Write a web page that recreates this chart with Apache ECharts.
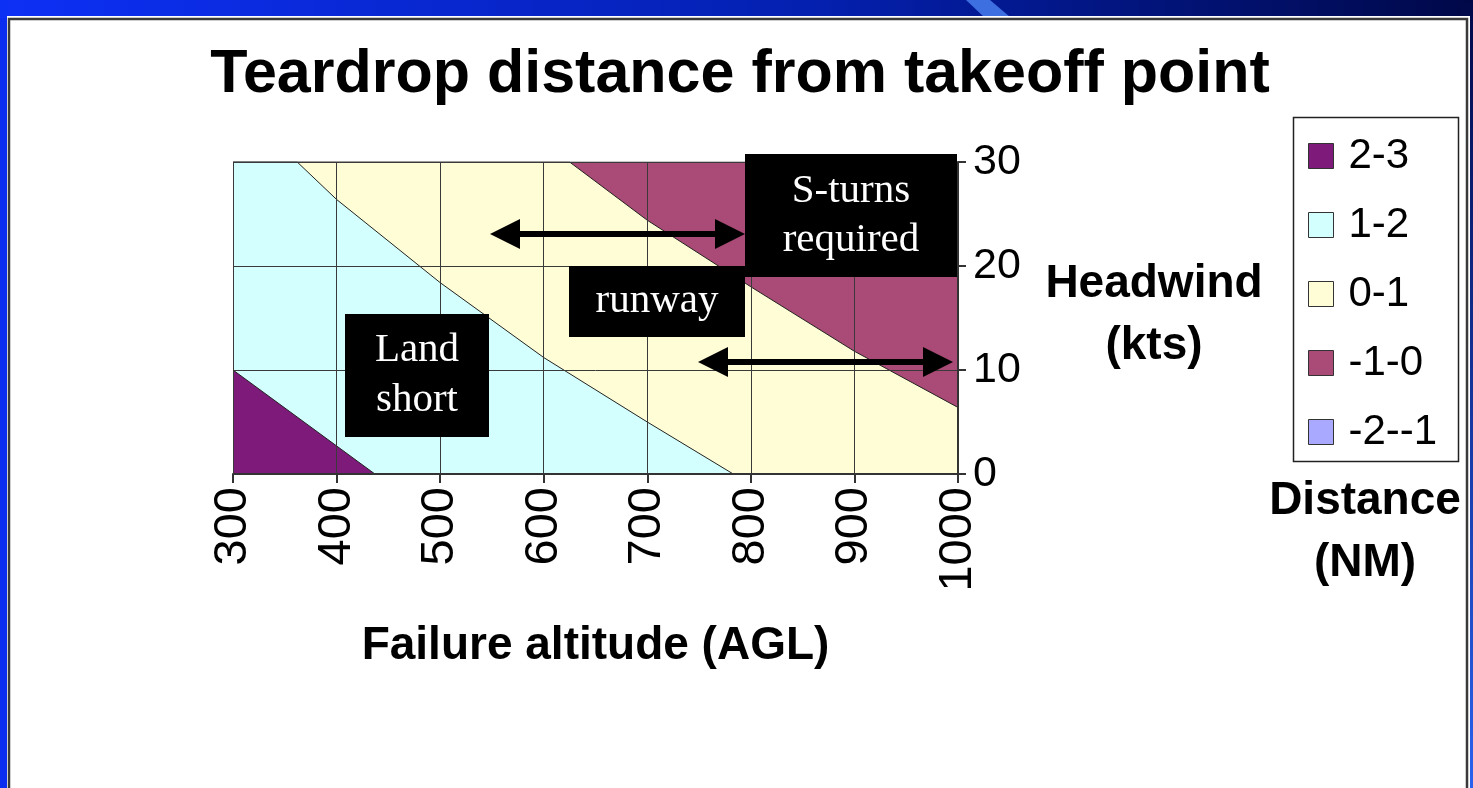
<!DOCTYPE html>
<html>
<head>
<meta charset="utf-8">
<title>Teardrop distance from takeoff point</title>
<script src="https://cdn.jsdelivr.net/npm/echarts@6/dist/echarts.min.js"></script>
<style>
  html, body { margin: 0; padding: 0; background: #fff; }
  #chart { width: 1473px; height: 788px; }
</style>
</head>
<body>
<div id="chart"></div>
<script>
// x axis: failure altitude (ft AGL), y axis: headwind (kts)
const altitudeTicks = [300, 400, 500, 600, 700, 800, 900, 1000];
const headwindTicks = [0, 10, 20, 30];

// legend bands (distance, NM)
const bandNames = ['2-3', '1-2', '0-1', '-1-0', '-2--1'];

// upper edge of each band as [altitude, headwind]
const edge23 = [[300, 10], [437, 0]];
const edge12 = [[300, 30], [362, 30], [400, 26.4], [500, 18.4], [600, 11.2], [700, 5.0], [783, 0]];
const edge01 = [[300, 30], [625, 30], [700, 24.4], [800, 18.0], [900, 11.8], [1000, 6.4]];
const edgeM10 = [[300, 30], [1000, 30]];
const edgeM21 = [];

const bandColors = {
  '2-3': '#7e1b7a',
  '1-2': '#d3ffff',
  '0-1': '#fffdd5',
  '-1-0': '#aa4a76',
  '-2--1': '#a9aaff'
};

const sans = '"Liberation Sans", Arial, sans-serif';
const serif = '"Liberation Serif", "Times New Roman", serif';

const chart = echarts.init(document.getElementById('chart'));

function band(name, data) {
  return {
    name: name,
    type: 'line',
    data: data,
    showSymbol: false,
    silent: true,
    itemStyle: { color: bandColors[name] },
    lineStyle: { color: '#222', width: 1 },
    areaStyle: { color: bandColors[name], opacity: 1 }
  };
}

chart.setOption({
  animation: false,
  title: [
    {
      text: 'Teardrop distance from takeoff point',
      left: 740, top: 45, textAlign: 'center', padding: 0,
      textStyle: { fontSize: 61, fontWeight: 'bold', color: '#000', fontFamily: sans }
    },
    {
      text: 'Headwind\n(kts)',
      left: 1154, top: 253, textAlign: 'center', padding: 0,
      textStyle: { fontSize: 46, lineHeight: 62, fontWeight: 'bold', color: '#000', fontFamily: sans }
    },
    {
      text: 'Distance\n(NM)',
      left: 1365, top: 470, textAlign: 'center', padding: 0,
      textStyle: { fontSize: 46, lineHeight: 62, fontWeight: 'bold', color: '#000', fontFamily: sans }
    }
  ],
  legend: {
    orient: 'vertical',
    left: 1308, top: 135,
    icon: 'rect',
    itemWidth: 25, itemHeight: 25, itemGap: 27,
    padding: 0,
    selectedMode: false,
    textStyle: { fontSize: 42, color: '#000', fontFamily: sans, padding: [0, 0, 10, 10] },
    data: bandNames.map(n => ({
      name: n,
      itemStyle: { color: bandColors[n], borderColor: '#333', borderWidth: 1 }
    }))
  },
  grid: { left: 233, right: 515, top: 162, bottom: 314 },
  xAxis: {
    type: 'value',
    min: altitudeTicks[0], max: altitudeTicks[altitudeTicks.length - 1], interval: 100,
    z: 5,
    name: 'Failure altitude (AGL)',
    nameLocation: 'middle', nameGap: 149,
    nameTextStyle: { fontSize: 46, fontWeight: 'bold', color: '#000', fontFamily: sans },
    axisLine: { lineStyle: { color: '#333', width: 2 } },
    axisTick: { show: true, length: 9, lineStyle: { color: '#333', width: 2 } },
    axisLabel: { rotate: 90, margin: 13, fontSize: 47, color: '#000', fontFamily: sans,
                 formatter: v => String(v) },
    splitLine: { show: true, lineStyle: { color: '#3a3a3a', width: 1 } }
  },
  yAxis: {
    type: 'value',
    position: 'right',
    min: headwindTicks[0], max: headwindTicks[headwindTicks.length - 1], interval: 10,
    z: 5,
    axisLine: { show: true, lineStyle: { color: '#333', width: 2 } },
    axisTick: { show: true, length: 8, lineStyle: { color: '#333', width: 2 } },
    axisLabel: { margin: 15, fontSize: 43, color: '#000', fontFamily: sans },
    splitLine: { show: true, lineStyle: { color: '#3a3a3a', width: 1 } }
  },
  series: [
    band('-1-0', edgeM10),
    band('0-1', edge01),
    band('1-2', edge12),
    band('2-3', edge23),
    band('-2--1', edgeM21)
  ]
});

// slide frame, legend box and the annotation boxes / arrows
function arrow(x1, x2, y) {
  const head = 30, half = 15;
  return [
    { type: 'line', z: 20, shape: { x1: x1 + head - 2, y1: y, x2: x2 - head + 2, y2: y },
      style: { stroke: '#000', lineWidth: 6 } },
    { type: 'polygon', z: 20, shape: { points: [[x1, y], [x1 + head, y - half], [x1 + head, y + half]] },
      style: { fill: '#000' } },
    { type: 'polygon', z: 20, shape: { points: [[x2, y], [x2 - head, y - half], [x2 - head, y + half]] },
      style: { fill: '#000' } }
  ];
}

function note(x, y, w, h, text, lh) {
  return [
    { type: 'rect', z: 20, shape: { x: x, y: y, width: w, height: h }, style: { fill: '#000' } },
    { type: 'text', z: 21, x: x + w / 2, y: y + h / 2,
      style: { text: text, fill: '#fff', font: '41px ' + serif, lineHeight: lh,
               align: 'center', verticalAlign: 'middle' } }
  ];
}

chart.setOption({
  graphic: [
    { type: 'rect', z: -10, shape: { x: 0, y: 0, width: 1473, height: 788 }, style: { fill: '#0b2df0' } },
    { type: 'rect', z: -9, shape: { x: 0, y: 0, width: 1473, height: 18 },
      style: { fill: new echarts.graphic.LinearGradient(0, 0, 1, 0, [
        { offset: 0, color: '#0d30f5' }, { offset: 0.55, color: '#0420b0' }, { offset: 1, color: '#000848' }]) } },
    { type: 'rect', z: -9, shape: { x: 1462, y: 0, width: 11, height: 788 },
      style: { fill: new echarts.graphic.LinearGradient(0, 0, 0, 1, [
        { offset: 0, color: '#000848' }, { offset: 1, color: '#2a62ee' }]) } },
    { type: 'polygon', z: -8, shape: { points: [[966, 0], [990, 0], [1010, 17], [984, 17]] },
      style: { fill: '#3d6fe0' } },
    { type: 'rect', z: -7, shape: { x: 7, y: 16, width: 1463, height: 800 }, style: { fill: '#fff' } },
    { type: 'rect', z: -6, shape: { x: 9, y: 19, width: 1458, height: 800 },
      style: { fill: null, stroke: '#3a3a3a', lineWidth: 2.5 } },
    { type: 'rect', z: -5, shape: { x: 1293.5, y: 117.5, width: 165, height: 344 },
      style: { fill: null, stroke: '#222', lineWidth: 1.5 } }
  ]
    .concat(note(345, 314, 144, 123, 'Land\nshort', 50))
    .concat(note(745, 154, 212, 123, 'S-turns\nrequired', 49))
    .concat(note(569, 266, 176, 71, 'runway', 49))
    .concat(arrow(490, 745, 234))
    .concat(arrow(698, 953, 362))
});
</script>
</body>
</html>
